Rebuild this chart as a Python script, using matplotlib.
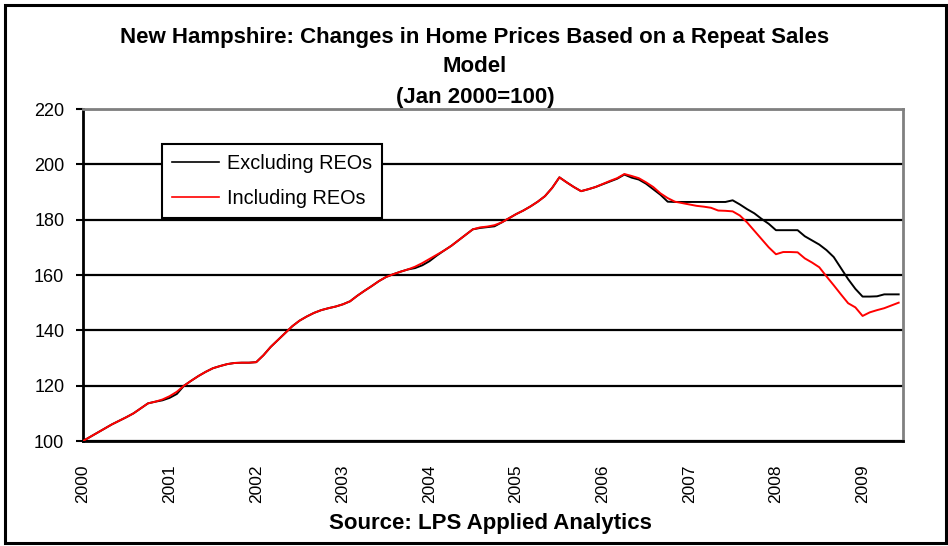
import matplotlib
matplotlib.use("Agg")
import matplotlib.pyplot as plt
import matplotlib.transforms as mtransforms
from matplotlib.patches import Rectangle

plt.rcParams['font.family'] = ['Liberation Sans', 'DejaVu Sans']

# Monthly index values, Jan 2000 .. Jun 2009
years = list(range(2000, 2010))
excluding = [
    100.0, 101.5, 103.0, 104.5, 106.0, 107.3, 108.6, 110.0, 111.8, 113.6, 114.2, 114.7,
    115.6, 117.0, 120.0, 121.8, 123.5, 125.0, 126.3, 127.1, 127.8, 128.2, 128.3, 128.3,
    128.5, 131.0, 134.0, 136.5, 139.0, 141.5, 143.5, 145.0, 146.3, 147.3, 148.0, 148.6,
    149.4, 150.5, 152.5, 154.3, 156.0, 157.8, 159.3, 160.3, 161.2, 162.0, 162.5, 163.5,
    165.0, 167.0, 168.8, 170.5, 172.5, 174.5, 176.5, 177.0, 177.3, 177.6, 179.0, 180.5,
    182.0, 183.3, 184.8, 186.5, 188.5, 191.5, 195.3, 193.5, 191.8, 190.3, 191.0, 191.8,
    192.8, 193.8, 194.8, 196.3, 195.2, 194.5, 193.0, 191.0, 189.0, 186.5, 186.4, 186.4,
    186.4, 186.4, 186.4, 186.4, 186.4, 186.4, 187.0, 185.5, 183.8, 182.3, 180.3, 178.5,
    176.2, 176.2, 176.2, 176.2, 174.0, 172.5, 171.0, 169.0, 166.5, 162.5, 158.5, 155.0,
    152.2, 152.2, 152.3, 153.0, 153.0, 153.0,
]
including = [
    100.0, 101.5, 103.0, 104.5, 106.0, 107.3, 108.6, 110.0, 111.8, 113.6, 114.2, 115.0,
    116.2, 117.8, 120.0, 121.8, 123.5, 125.0, 126.3, 127.1, 127.8, 128.2, 128.3, 128.3,
    128.5, 131.0, 134.0, 136.5, 139.0, 141.5, 143.5, 145.0, 146.3, 147.3, 148.0, 148.6,
    149.4, 150.5, 152.5, 154.3, 156.0, 157.8, 159.3, 160.3, 161.2, 162.0, 163.0, 164.3,
    165.8, 167.3, 168.8, 170.5, 172.5, 174.5, 176.5, 177.2, 177.5, 178.0, 179.0, 180.5,
    182.0, 183.3, 184.8, 186.5, 188.5, 191.5, 195.3, 193.5, 191.8, 190.3, 191.0, 191.8,
    192.9, 194.0, 195.0, 196.5, 195.8, 195.0, 193.5, 191.8, 189.5, 187.8, 186.5, 186.0,
    185.5, 185.0, 184.7, 184.3, 183.3, 183.2, 183.0, 181.5, 179.0, 176.0, 173.0, 170.0,
    167.5, 168.3, 168.3, 168.2, 166.0, 164.5, 162.8, 159.5, 156.3, 153.0, 149.8, 148.3,
    145.2, 146.5, 147.3, 148.0, 149.0, 150.0,
]
months = list(range(len(excluding)))
yticks = [100, 120, 140, 160, 180, 200, 220]

W, H = 948, 546
fig = plt.figure(figsize=(W / 100, H / 100), dpi=100)
ax = fig.add_axes([83 / W, 1 - 441 / H, (903 - 83) / W, (441 - 109) / H])

ax.plot(months, excluding, color='black', lw=1.4, label='Excluding REOs', zorder=3)
ax.plot(months, including, color='#ff0000', lw=1.4, label='Including REOs', zorder=4)

ax.set_ylim(100, 220)
ax.set_xlim(0, 113.6)
ax.set_yticks(yticks)
ax.set_yticklabels([str(v) for v in yticks], fontsize=13)
ax.yaxis.grid(True, color='black', lw=1.6, zorder=1)
ax.set_axisbelow(True)

ax.set_xticks([12 * i for i in range(len(years))])
ax.set_xticklabels([str(y) for y in years], rotation=90, fontsize=12.5, va='top', ha='center')
offset = mtransforms.ScaledTranslation(3.5 / 100, 0, fig.dpi_scale_trans)
for lbl in ax.get_xticklabels():
    lbl.set_transform(lbl.get_transform() + offset)
ax.tick_params(axis='x', length=0, pad=17)
ax.tick_params(axis='y', length=5, width=1.5, direction='out', pad=8.5, color='black')

for s in ['left', 'bottom']:
    ax.spines[s].set_color('black')
    ax.spines[s].set_linewidth(2)
for s in ['top', 'right']:
    ax.spines[s].set_color('#808080')
    ax.spines[s].set_linewidth(2)

leg = ax.legend(loc='upper left', bbox_to_anchor=((162 - 83) / 820, (441 - 144) / 332),
                fontsize=14.3, frameon=True, fancybox=False, borderaxespad=0,
                handlelength=2.35, handletextpad=0.4, labelspacing=0.8, borderpad=0.5)
leg.get_frame().set_edgecolor('black')
leg.get_frame().set_linewidth(1.5)
leg.get_frame().set_alpha(1)
for h in leg.get_lines():
    h.set_linewidth(1.2)

title_lines = ["New Hampshire: Changes in Home Prices Based on a Repeat Sales",
               "Model", "(Jan 2000=100)"]
for txt, yp in zip(title_lines, [37, 67, 97]):
    fig.text(475 / W, 1 - yp / H, txt, ha='center', va='center', fontsize=16, fontweight='bold')

fig.text(490 / W, 1 - 523 / H, "Source: LPS Applied Analytics", ha='center', va='center',
         fontsize=16, fontweight='bold')

fig.patches.append(Rectangle((5 / W, 1 - 543 / H), (946 - 5) / W, (543 - 5) / H,
                             transform=fig.transFigure, fill=False, edgecolor='black', lw=2.2))

fig.savefig('out.png', dpi=100)
